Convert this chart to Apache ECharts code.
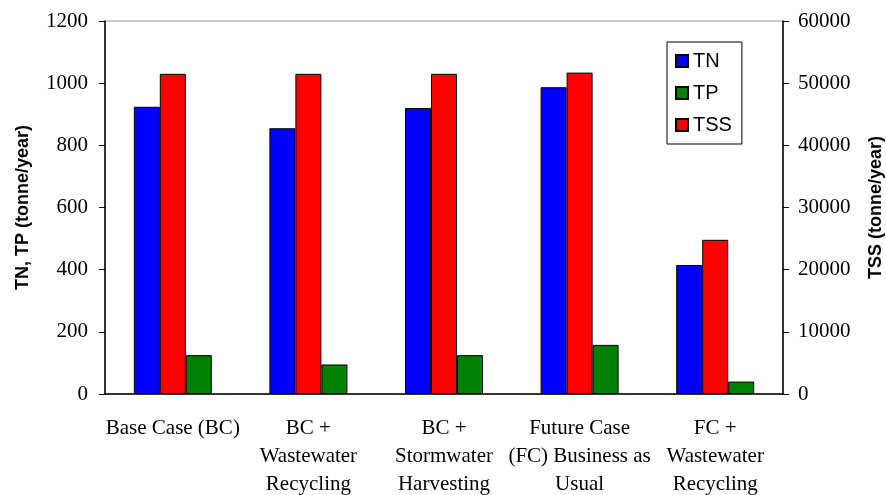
<!DOCTYPE html>
<html>
<head>
<meta charset="utf-8">
<script src="https://cdn.jsdelivr.net/npm/echarts@6/dist/echarts.min.js"></script>
<style>
  html, body { margin: 0; padding: 0; background: #fff; }
  #main { width: 886px; height: 495px; }
</style>
</head>
<body>
<div id="main"></div>
<script>
// scenario names
var categories = [
    'Base Case (BC)',
    'BC +\nWastewater\nRecycling',
    'BC +\nStormwater\nHarvesting',
    'Future Case\n(FC) Business as\nUsual',
    'FC +\nWastewater\nRecycling'
];
// loads, tonne/year
var tnData = [924, 855, 920, 987, 415];
var tpData = [125, 95, 125, 158, 40];
var tssData = [51500, 51500, 51500, 51700, 24800];

var serif = '"Liberation Serif", "Times New Roman", serif';
var sans = '"Liberation Sans", Arial, sans-serif';

function plain(v) { return String(v); }

var chart = echarts.init(document.getElementById('main'));
chart.setOption({
    animation: false,
    backgroundColor: '#fff',
    grid: {
        left: 105, right: 103, top: 21, bottom: 101,
        containLabel: false,
        outerBoundsMode: 'none',
        show: true,
        borderColor: '#999',
        borderWidth: 1
    },
    legend: {
        orient: 'vertical',
        left: 667, top: 42,
        data: ['TN', 'TP', 'TSS'],
        icon: 'rect',
        itemWidth: 12, itemHeight: 12,
        itemGap: 12,
        borderColor: '#000',
        borderWidth: 1,
        borderRadius: 0,
        padding: [9, 10, 9, 8],
        textStyle: { fontFamily: sans, fontSize: 20, color: '#000' }
    },
    xAxis: {
        type: 'category',
        data: categories,
        axisLine: { lineStyle: { color: '#000', width: 1.5 } },
        axisTick: { length: 6, lineStyle: { color: '#000' } },
        axisLabel: {
            interval: 0,
            margin: 20,
            fontFamily: serif,
            fontSize: 21,
            lineHeight: 28,
            color: '#000'
        }
    },
    yAxis: [
        {
            type: 'value',
            min: 0, max: 1200, interval: 200,
            name: 'TN, TP (tonne/year)',
            nameLocation: 'middle',
            nameGap: 73,
            nameTextStyle: { fontFamily: sans, fontSize: 18, fontWeight: 'bold', color: '#000' },
            axisLine: { show: true, lineStyle: { color: '#000', width: 1.5 } },
            axisTick: { show: true, length: 6, lineStyle: { color: '#000' } },
            splitLine: { show: false },
            axisLabel: { margin: 17, fontFamily: serif, fontSize: 21, color: '#000', formatter: plain }
        },
        {
            type: 'value',
            min: 0, max: 60000, interval: 10000,
            name: 'TSS (tonne/year)',
            nameLocation: 'middle',
            nameGap: 84,
            nameRotate: 90,
            nameTextStyle: { fontFamily: sans, fontSize: 18, fontWeight: 'bold', color: '#000' },
            axisLine: { show: true, lineStyle: { color: '#000', width: 1.5 } },
            axisTick: { show: true, length: 6, lineStyle: { color: '#000' } },
            splitLine: { show: false },
            axisLabel: { margin: 15, fontFamily: serif, fontSize: 21, color: '#000', formatter: plain }
        }
    ],
    series: [
        {
            name: 'TN', type: 'bar', data: tnData,
            barWidth: 26, barGap: '0%',
            itemStyle: { color: '#0000ff', borderColor: '#000', borderWidth: 1 }
        },
        {
            name: 'TSS', type: 'bar', yAxisIndex: 1, data: tssData,
            barWidth: 26, barGap: '0%',
            itemStyle: { color: '#ff0000', borderColor: '#000', borderWidth: 1 }
        },
        {
            name: 'TP', type: 'bar', data: tpData,
            barWidth: 26, barGap: '0%',
            itemStyle: { color: '#008000', borderColor: '#000', borderWidth: 1 }
        }
    ]
});
</script>
</body>
</html>
